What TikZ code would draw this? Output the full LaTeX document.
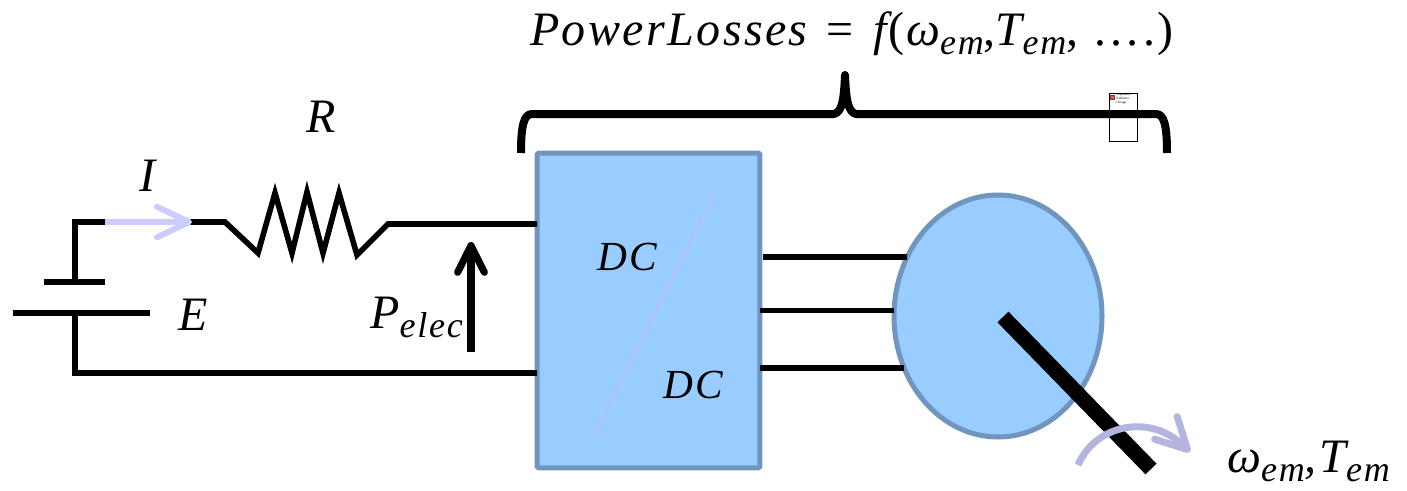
\documentclass[tikz,border=0pt]{standalone}
\usepackage{amsmath,amssymb}
\usepackage{fontspec}
\usetikzlibrary{arrows.meta,positioning,shapes.geometric,calc}
\newfontfamily\eqfont[LetterSpace=5]{Liberation Serif}
\definecolor{DriveFill}{HTML}{99CCFF}
\definecolor{DriveEdge}{HTML}{7096BF}
\definecolor{DriveLilac}{HTML}{CCCCFF}
\definecolor{DriveViolet}{HTML}{B4B4E0}
\definecolor{DriveSlash}{HTML}{C0BCE4}
\newcommand{\lowtxt}[1]{\raisebox{-.2em}{\fontsize{27}{30}\selectfont\itshape #1}}
\begin{document}
\begin{tikzpicture}[
    x=.75pt,y=-.75pt,
    wire/.style={line width=4.2pt,black,line join=miter},
    block/.style={draw=DriveEdge,line width=3.75pt,fill=DriveFill,rounded corners=1pt,outer sep=0pt,minimum width=167pt,minimum height=236pt},
    rotor/.style={ellipse,draw=DriveEdge,line width=3.75pt,fill=DriveFill,outer sep=0pt,inner sep=0pt,minimum width=156pt,minimum height=181.5pt},
    lab/.style={inner sep=0pt,anchor=base west,font=\eqfont\fontsize{36}{40}\selectfont},
    arr/.style={line width=4.5pt,DriveLilac,-{Straight Barb[length=24pt,width=23pt,round]}}
  ]
    \useasboundingbox (0,0) rectangle (1407,490);
    \node[block] (conv) at (648.5,310.5) {};
    \node[rotor] (motor) at (998,316) {};
    \coordinate (plusin) at (75,282);
    \coordinate (corner) at (75,222);
    \coordinate (rin) at (225,222);
    \coordinate (rout) at (388,224);
    \coordinate (minusin) at (75,313);
    \coordinate (cornerb) at (75,373);
    \coordinate (platea) at (44,282);
    \coordinate (plateb) at (105,282);
    \coordinate (platec) at (13,313);
    \coordinate (plated) at (150,313);
    \coordinate (ptail) at (471,352);
    \coordinate (phead) at (471,242);
    \coordinate (itail) at (105,222);
    \coordinate (ihead) at (192,222);
    \coordinate (slasha) at (713,195);
    \coordinate (slashb) at (593,438);
    \coordinate (shafta) at (1003,317);
    \coordinate (shaftb) at (1151,469);
    \coordinate (spina) at (1078,465);
    \coordinate (spinb) at (1190,452);
    \draw[wire] (plusin)--(corner)--(rin)--(258,253)--(275,193)--(292,253)--(307,192)--(323,253)--(339,193)--(357,255)--(rout)--(rout -| conv.west);
    \draw[wire] (minusin)--(cornerb)--(cornerb -| conv.west);
    \draw[wire] (platea)--(plateb);
    \draw[wire] (platec)--(plated);
    \draw[wire] (motor.147)--++(-144,0);
    \draw[wire] (motor.177)--(motor.177 -| conv.east);
    \draw[wire] (motor.209)--(motor.209 -| conv.east);
    \draw[arr] (itail)--(ihead);
    \draw[line width=5.4pt,-{Straight Barb[length=20pt,width=20pt,round]}] (ptail)--(phead);
    \draw[line width=1pt,DriveSlash] (slasha)--(slashb);
    \draw[line width=11.5pt,black] (shafta)--(shaftb);
    \draw[line width=5.2pt,DriveViolet,-{Straight Barb[length=23pt,width=24pt,round]}] (spina) .. controls (1095,425) and (1150,412) .. (spinb);
    \node[draw=black,line width=.6pt,fill=white,minimum width=21.5pt,minimum height=36pt,inner sep=0pt] (nopic) at (1123.5,117) {};
    \node[draw=black!70,line width=.3pt,fill=red!70,minimum size=3pt,inner sep=0pt,right=1.2pt of nopic.north west,yshift=-3.5pt] (nopicred) {};
    \node[right=.8pt of nopicred,inner sep=0pt,align=left,font=\fontsize{2.4}{2.9}\selectfont\sffamily,yshift=-1pt] (nopictxt) {Impossible\\d'afficher\\l'image.};
    \draw[line width=6pt,line join=round] (521,153) .. controls (521,125) and (524,114) .. (532,114) -- (834,114) .. controls (842,112) and (844,100) .. (845,75) .. controls (846,100) and (848,112) .. (856,114) -- (1156,114) .. controls (1164,114) and (1167,125) .. (1167,153);
    \node[lab,font=\eqfont\fontsize{31}{36}\selectfont] (dca) at (597,270) {\itshape DC};
    \node[lab,font=\eqfont\fontsize{31}{36}\selectfont] (dcb) at (663,398) {\itshape DC};
    \node[lab] (res) at (306,132) {\itshape R};
    \node[lab] (cur) at (139,191) {\itshape I};
    \node[lab] (emf) at (178,330) {\itshape E};
    \node[lab] (pel) at (370,328) {\itshape P\lowtxt{elec}};
    \node[lab] (spd) at (1227,472) {\itshape ω\lowtxt{em},T\lowtxt{em}};
    \node[lab] (loss) at (530,45) {{\itshape PowerLosses}\hspace{.1em} = \hspace{.1em}{\itshape f}\hspace{.05em}(\hspace{.03em}{\itshape ω}\lowtxt{em},{\itshape T}\lowtxt{em}, ….)};
  \end{tikzpicture}
\end{document}
